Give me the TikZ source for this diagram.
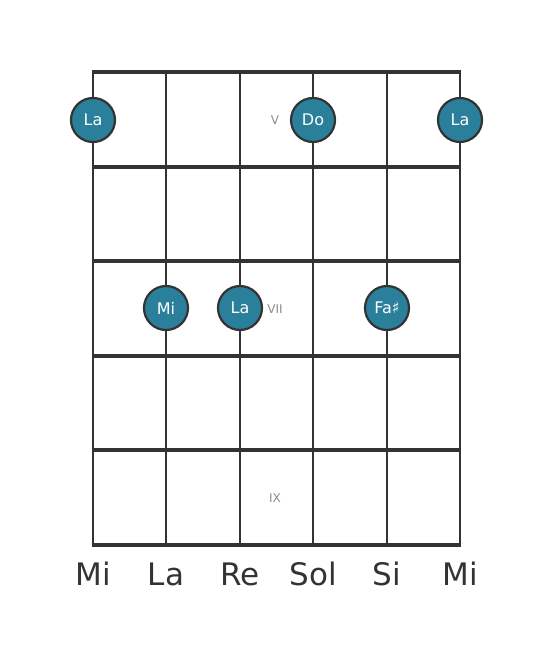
\documentclass[tikz,border=0pt]{standalone}
\usepackage{fontspec}
\setmainfont{DejaVu Sans}
\definecolor{notefill}{RGB}{42,127,155}
\definecolor{linec}{RGB}{51,51,51}
\definecolor{romanc}{RGB}{140,140,140}
\begin{document}
\begin{tikzpicture}[x=1pt,y=-1pt,
  fretline/.style={draw=linec,line width=4.5pt},
  stringline/.style={draw=linec,line width=2.8pt},
  note/.style={circle,draw=linec,line width=2.2pt,fill=notefill,minimum size=44pt,inner sep=0pt,text=white,font=\fontsize{16}{16}\selectfont},
  roman/.style={text=romanc,font=\fontsize{12}{12}\selectfont},
  strname/.style={text=linec,font=\fontsize{31}{31}\selectfont,anchor=base}]
\useasboundingbox (0,0) rectangle (553,656);
\fill[white] (0,0) rectangle (553,656);
\foreach \i/\x in {1/93,2/166,3/240,4/313,5/387,6/460} {
  \coordinate (st\i) at (\x,72);
  \coordinate (sb\i) at (\x,545);
  \draw[stringline] (st\i) -- (sb\i);
}
\foreach \j/\y in {0/72,1/167,2/261,3/356,4/450,5/545} {
  \coordinate (fl\j) at (91.6,\y);
  \coordinate (fr\j) at (461.4,\y);
  \draw[fretline] (fl\j) -- (fr\j);
}
\node[roman] (rV) at (275,120) {V};
\node[roman] (rVII) at (275,309) {VII};
\node[roman] (rIX) at (275,498) {IX};
\node[note] (n1) at (93,120) {La};
\node[note] (n2) at (313,120) {Do};
\node[note] (n3) at (460,120) {La};
\node[note] (n4) at (166,308) {Mi};
\node[note] (n5) at (240,308) {La};
\node[note] (n6) at (387,308) {Fa♯};
\foreach \i/\x/\t in {1/93/Mi,2/166/La,3/240/Re,4/313/Sol,5/387/Si,6/460/Mi}
  \node[strname] (s\i) at (\x,585) {\t};
\end{tikzpicture}
\end{document}
